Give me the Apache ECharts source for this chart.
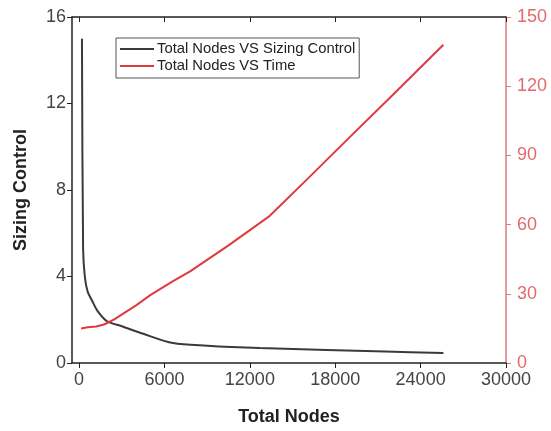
<!DOCTYPE html>
<html>
<head>
<meta charset="utf-8">
<script src="https://cdn.jsdelivr.net/npm/echarts@6/dist/echarts.min.js"></script>
<style>
html, body { margin: 0; padding: 0; background: #fff; }
#main { width: 551px; height: 431px; }
</style>
</head>
<body>
<div id="main"></div>
<script>
var myChart = echarts.init(document.getElementById('main'));

// total nodes vs sizing control
const sizingNodes = [200, 280, 400, 600, 900, 1300, 1970, 3000, 4500, 6600, 9000, 12700, 17400, 21500, 25600]
const sizingValues = [15, 5.3, 4.0, 3.3, 2.9, 2.4, 1.93, 1.7, 1.35, 0.92, 0.8, 0.69, 0.6, 0.53, 0.46]

// total nodes vs time
const timeNodes = [140, 600, 1200, 1800, 2500, 4000, 5000, 6600, 7800, 10500, 13400, 16000, 19000, 22000, 25600]
const timeValues = [15, 15.5, 15.8, 16.8, 19, 25, 29.4, 35.5, 39.7, 51, 63.8, 79.5, 97.8, 116, 138]

const xTicks = [0, 6000, 12000, 18000, 24000, 30000]

const font = 'Liberation Sans, Arial, sans-serif'
const red = '#e0393e'
const redAxis = '#e07a7c'

function pairs(xs, ys) {
    return xs.map((x, i) => [x, ys[i]])
}

option = {
    animation: false,
    grid: { left: 72, right: 45, top: 17, bottom: 66 },
    legend: {
        orient: 'vertical',
        left: 116,
        top: 38,
        padding: [3, 4, 4, 4],
        itemGap: 1,
        itemWidth: 34,
        itemHeight: 2,
        icon: 'rect',
        borderColor: '#555',
        borderWidth: 1,
        textStyle: { fontFamily: font, fontSize: 14.8, lineHeight: 16, color: '#222', padding: [0, 0, 0, -2] },
        data: ['Total Nodes VS Sizing Control', 'Total Nodes VS Time']
    },
    xAxis: [
        {
            type: 'value',
            min: -500,
            max: 30000,
            interval: 6000,
            name: 'Total Nodes',
            nameLocation: 'middle',
            nameGap: 45,
            nameTextStyle: { fontFamily: font, fontSize: 18, fontWeight: 'bold', color: '#222' },
            axisLine: { show: true, onZero: false, lineStyle: { color: '#222', width: 1.5 } },
            axisTick: { show: true, length: 5, lineStyle: { color: '#222' }, customValues: xTicks },
            axisLabel: { fontFamily: font, fontSize: 18, color: '#444', margin: 8, customValues: xTicks, formatter: (v) => String(v) },
            splitLine: { show: false }
        },
        {
            type: 'value',
            position: 'top',
            min: -500,
            max: 30000,
            axisLine: { show: true, onZero: false, lineStyle: { color: '#222', width: 1.5 } },
            axisTick: { show: true, inside: true, length: 5, lineStyle: { color: '#222' }, customValues: xTicks },
            axisLabel: { show: false },
            splitLine: { show: false }
        }
    ],
    yAxis: [
        {
            type: 'value',
            min: 0,
            max: 16,
            interval: 4,
            name: 'Sizing Control',
            nameLocation: 'middle',
            nameGap: 42,
            nameTextStyle: { fontFamily: font, fontSize: 18, fontWeight: 'bold', color: '#222' },
            axisLine: { show: true, onZero: false, lineStyle: { color: '#222', width: 1.5 } },
            axisTick: { show: true, length: 5, lineStyle: { color: '#222' } },
            axisLabel: { fontFamily: font, fontSize: 18, color: '#444', margin: 6 },
            splitLine: { show: false }
        },
        {
            type: 'value',
            position: 'right',
            min: 0,
            max: 150,
            interval: 30,
            axisLine: { show: true, onZero: false, lineStyle: { color: redAxis, width: 1.5 } },
            axisTick: { show: true, length: 5, lineStyle: { color: redAxis } },
            axisLabel: { fontFamily: font, fontSize: 18, color: '#e06a6c', margin: 11 },
            splitLine: { show: false }
        }
    ],
    series: [
        {
            name: 'Total Nodes VS Sizing Control',
            type: 'line',
            xAxisIndex: 0,
            yAxisIndex: 0,
            symbol: 'none',
            smooth: 0.3,
            color: '#3a3a3a',
            lineStyle: { width: 2, color: '#3a3a3a' },
            data: pairs(sizingNodes, sizingValues)
        },
        {
            name: 'Total Nodes VS Time',
            type: 'line',
            xAxisIndex: 0,
            yAxisIndex: 1,
            symbol: 'none',
            color: red,
            lineStyle: { width: 2, color: red },
            data: pairs(timeNodes, timeValues)
        }
    ]
};

myChart.setOption(option)
</script>
</body>
</html>
